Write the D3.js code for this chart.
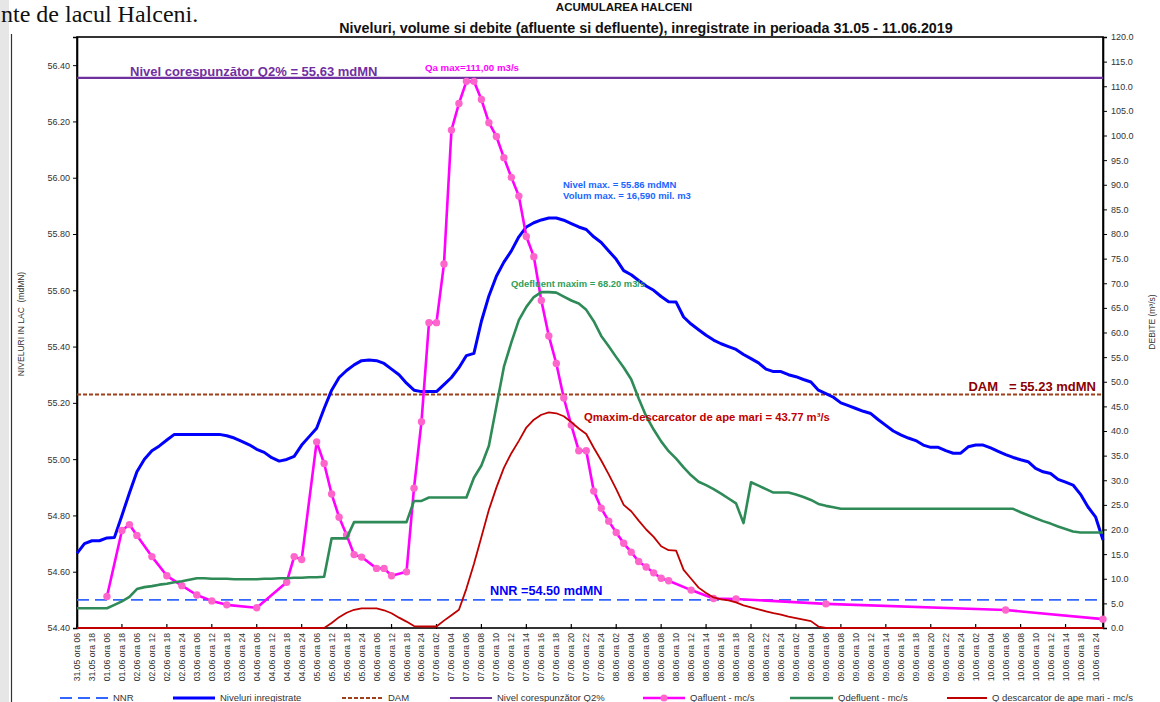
<!DOCTYPE html>
<html><head><meta charset="utf-8">
<script src="https://cdn.jsdelivr.net/npm/d3@7"></script>
<style>
body{margin:0;background:#fff;}
svg{display:block;}
text{font-family:"Liberation Sans",Arial,Helvetica,sans-serif;}
</style>
</head><body>
<svg id="c" width="1160" height="702"></svg>
<script>
// ---------- DATA ----------
const tickLabels = [
 "31.05 ora 06","31.05 ora 18","01.06 ora 06","01.06 ora 18","02.06 ora 06","02.06 ora 12","02.06 ora 18","02.06 ora 24",
 "03.06 ora 06","03.06 ora 12","03.06 ora 18","03.06 ora 24","04.06 ora 06","04.06 ora 12","04.06 ora 18","04.06 ora 24",
 "05.06 ora 06","05.06 ora 12","05.06 ora 18","05.06 ora 24","06.06 ora 06","06.06 ora 12","06.06 ora 18","06.06 ora 24",
 "07.06 ora 02","07.06 ora 04","07.06 ora 06","07.06 ora 08","07.06 ora 10","07.06 ora 12","07.06 ora 14","07.06 ora 16",
 "07.06 ora 18","07.06 ora 20","07.06 ora 22","07.06 ora 24","08.06 ora 02","08.06 ora 04","08.06 ora 06","08.06 ora 08",
 "08.06 ora 10","08.06 ora 12","08.06 ora 14","08.06 ora 16","08.06 ora 18","08.06 ora 20","08.06 ora 22","08.06 ora 24",
 "09.06 ora 02","09.06 ora 04","09.06 ora 06","09.06 ora 08","09.06 ora 10","09.06 ora 12","09.06 ora 14","09.06 ora 16",
 "09.06 ora 18","09.06 ora 20","09.06 ora 22","09.06 ora 24","10.06 ora 02","10.06 ora 04","10.06 ora 06","10.06 ora 08",
 "10.06 ora 10","10.06 ora 12","10.06 ora 14","10.06 ora 18","10.06 ora 24"
];
// Niveluri inregistrate (mdMN), one value per reading (138 readings)
const levels = [
 54.665,54.70,54.71,54.71,54.72,54.722,54.80,54.88,54.955,55.00,
 55.03,55.047,55.068,55.088,55.088,55.088,55.088,55.088,55.088,55.088,
 55.083,55.075,55.063,55.051,55.035,55.024,55.005,54.993,54.999,55.010,
 55.05,55.08,55.11,55.18,55.245,55.29,55.315,55.335,55.35,55.352,
 55.35,55.34,55.32,55.30,55.27,55.245,55.24,55.24,55.24,55.265,
 55.29,55.325,55.368,55.376,55.49,55.58,55.65,55.70,55.74,55.79,
 55.825,55.84,55.85,55.857,55.857,55.849,55.837,55.825,55.816,55.79,
 55.77,55.74,55.71,55.67,55.655,55.635,55.615,55.60,55.578,55.559,
 55.558,55.505,55.48,55.46,55.44,55.423,55.41,55.40,55.39,55.372,
 55.357,55.342,55.32,55.311,55.311,55.30,55.293,55.283,55.274,55.245,
 55.233,55.22,55.20,55.19,55.18,55.17,55.162,55.14,55.12,55.10,
 55.086,55.075,55.066,55.05,55.042,55.042,55.03,55.021,55.021,55.044,
 55.05,55.05,55.04,55.028,55.016,55.006,54.998,54.991,54.967,54.955,
 54.949,54.928,54.918,54.908,54.875,54.83,54.795,54.713
];
// Qdefluent (m3/s)
const qDefluent = [
 4.0,4.0,4.0,4.0,4.0,4.7,5.4,6.3,7.9,8.3,
 8.5,8.8,9.0,9.3,9.5,9.8,10.1,10.1,10.0,10.0,
 10.0,9.9,9.9,9.9,9.9,10.0,10.0,10.1,10.1,10.2,
 10.2,10.3,10.3,10.4,18.2,18.2,18.2,21.5,21.5,21.5,
 21.5,21.5,21.5,21.5,21.5,25.8,25.8,26.5,26.5,26.5,
 26.5,26.5,26.5,30.5,33.0,37.0,45.0,53.0,58.0,62.5,
 65.2,67.2,68.2,68.2,68.1,67.3,66.5,65.9,64.6,62.3,
 59.3,57.2,55.0,52.9,50.5,46.6,43.0,40.3,37.9,35.9,
 34.4,32.6,31.0,29.7,29.0,28.2,27.3,26.3,25.3,21.3,
 29.6,28.9,28.2,27.5,27.5,27.5,27.1,26.6,26.0,25.2,
 24.8,24.5,24.2,24.2,24.2,24.2,24.2,24.2,24.2,24.2,
 24.2,24.2,24.2,24.2,24.2,24.2,24.2,24.2,24.2,24.2,
 24.2,24.2,24.2,24.2,24.2,24.2,23.5,22.9,22.3,21.7,
 21.2,20.6,20.1,19.6,19.4,19.4,19.4,19.4
];
// Q descarcator de ape mari (m3/s)
const qDescarcator = [
 0,0,0,0,0,0,0,0,0,0,
 0,0,0,0,0,0,0,0,0,0,
 0,0,0,0,0,0,0,0,0,0,
 0,0,0,0,1.0,2.2,3.1,3.7,4.0,4.0,
 4.0,3.6,3.0,2.1,1.3,0.4,0.3,0.3,0.3,1.5,
 2.6,3.7,8.0,13.0,18.5,24.0,28.5,32.5,35.5,38.0,
 40.7,42.3,43.3,43.77,43.6,43.0,41.8,40.5,39.4,36.6,
 34.0,31.2,28.2,25.0,23.7,21.8,20.0,18.5,16.6,15.8,
 15.7,11.8,10.0,8.2,7.1,6.2,5.8,5.6,5.2,4.6,
 4.2,3.8,3.4,3.0,2.7,2.3,2.0,1.7,1.4,0.3,
 0,0,0,0,0,0,0,0,0,0,
 0,0,0,0,0,0,0,0,0,0,
 0,0,0,0,0,0,0,0,0,0,
 0,0,0,0,0,0,0,0
];
// Qafluent (m3/s), null = no reading
const qAfluent = [
 null,null,null,null,6.4,null,19.8,21.0,18.8,null,
 14.5,null,10.6,null,8.6,null,6.7,null,5.5,null,
 4.7,null,null,null,4.1,null,null,null,9.3,14.5,
 13.9,null,37.8,33.4,27.2,22.5,18.9,14.9,14.4,null,
 12.1,12.1,10.6,null,11.4,28.4,41.9,62.0,62.0,73.9,
 101.1,106.5,111.0,111.0,107.3,102.6,99.8,95.5,91.5,87.7,
 79.5,75.4,66.5,59.3,53.7,46.7,41.2,36.0,36.0,27.8,
 24.3,21.7,19.4,17.2,15.4,13.5,12.4,11.2,10.1,9.6,
 null,null,7.7,null,null,6.0,null,null,5.9,null,
 null,null,null,null,null,null,null,null,null,null,
 4.9,null,null,null,null,null,null,null,null,null,
 null,null,null,null,null,null,null,null,null,null,
 null,null,null,null,3.65,null,null,null,null,null,
 null,null,null,null,null,null,null,1.8
];
const levelTicks = [54.4,54.6,54.8,55.0,55.2,55.4,55.6,55.8,56.0,56.2,56.4];
const flowTicks = [0,5,10,15,20,25,30,35,40,45,50,55,60,65,70,75,80,85,90,95,100,105,110,115,120];
const nnrLevel = 54.50;
const damLevel = 55.23;
const q2LineLevel = 56.355; // where the Q2% line is drawn

// ---------- SCALES ----------
const svg = d3.select("#c");
const L = 77, R = 1103, T = 37, B = 628;
const x = d3.scaleLinear().domain([0, levels.length - 1]).range([L, R]);
const yL = d3.scaleLinear().domain([54.4, 56.5]).range([B, T]);
const yR = d3.scaleLinear().domain([0, 120]).range([B, T]);

// page decoration (document context)
svg.append("rect").attr("x",0).attr("y",0).attr("width",9).attr("height",702).attr("fill","#e6e6e6");
svg.append("line").attr("x1",11.5).attr("x2",11.5).attr("y1",34).attr("y2",702).attr("stroke","#333").attr("stroke-width",1.2);
svg.append("text").attr("x",1).attr("y",22).attr("font-size",24)
  .style("font-family","'Liberation Serif','Times New Roman',serif").attr("fill","#111").text("nte de lacul Halceni.");
svg.append("text").attr("x",624).attr("y",11).attr("text-anchor","middle").attr("font-size",11.5).attr("font-weight","bold")
  .attr("fill","#111").text("ACUMULAREA  HALCENI");
svg.append("text").attr("x",646).attr("y",33).attr("text-anchor","middle").attr("font-size",14.3).attr("font-weight","bold")
  .attr("fill","#111").text("Niveluri, volume si debite (afluente si defluente), inregistrate in perioada 31.05 - 11.06.2019");

// frame
svg.append("rect").attr("x",L).attr("y",T).attr("width",R-L).attr("height",B-T)
  .attr("fill","none").attr("stroke","#000").attr("stroke-width",1.6);

// axes
const axL = svg.append("g").attr("transform",`translate(${L},0)`)
  .call(d3.axisLeft(yL).tickValues(levelTicks).tickFormat(d3.format(".2f")).tickSize(4).tickPadding(3));
const axR = svg.append("g").attr("transform",`translate(${R},0)`)
  .call(d3.axisRight(yR).tickValues(flowTicks).tickFormat(d3.format(".1f")).tickSize(4).tickPadding(4));
[axL, axR].forEach(g => {
  g.select(".domain").attr("stroke","#000").attr("stroke-width",1.6);
  g.selectAll(".tick line").attr("stroke","#000").attr("stroke-width",1);
  g.selectAll(".tick text").attr("font-size",9).attr("fill","#333").style("font-family","'Liberation Sans',Arial,sans-serif");
});

// x ticks every 6 readings
const xTickIdx = d3.range(0, levels.length, 6);
svg.append("g").selectAll("line").data(xTickIdx).join("line")
  .attr("x1",d=>x(d)).attr("x2",d=>x(d)).attr("y1",B-4).attr("y2",B+1)
  .attr("stroke","#000").attr("stroke-width",1.2);
// x labels every 2 readings
svg.append("g").selectAll("text").data(tickLabels).join("text")
  .attr("transform",(d,i)=>`translate(${x(i*2)+3},${B+5}) rotate(-90)`)
  .attr("text-anchor","end").attr("font-size",8.6).attr("fill","#333").text(d=>d);

// axis titles
svg.append("text").attr("transform","translate(24,324) rotate(-90)").attr("text-anchor","middle")
  .attr("font-size",8.5).attr("fill","#333").style("white-space","pre").text("NIVELURI IN LAC  (mdMN)");
svg.append("text").attr("transform","translate(1155,322) rotate(-90)").attr("text-anchor","middle")
  .attr("font-size",8.5).attr("fill","#333").text("DEBITE (m³/s)");

// reference lines
svg.append("line").attr("x1",L).attr("x2",R).attr("y1",yL(nnrLevel)).attr("y2",yL(nnrLevel))
  .attr("stroke","#3366ff").attr("stroke-width",1.8).attr("stroke-dasharray","12,6");
svg.append("line").attr("x1",L).attr("x2",R).attr("y1",yL(damLevel)).attr("y2",yL(damLevel))
  .attr("stroke","#a0401a").attr("stroke-width",2).attr("stroke-dasharray","4,2");
svg.append("line").attr("x1",L).attr("x2",R).attr("y1",yL(q2LineLevel)).attr("y2",yL(q2LineLevel))
  .attr("stroke","#7030a0").attr("stroke-width",2.2);

// series
const lineL = d3.line().x((d,i)=>x(i)).y(d=>yL(d));
const lineR = d3.line().x((d,i)=>x(i)).y(d=>yR(d));
svg.append("path").attr("d",lineL(levels)).attr("fill","none").attr("stroke","#0000ff").attr("stroke-width",3).attr("stroke-linejoin","round");

const afl = qAfluent.map((v,i)=>({i,v})).filter(d=>d.v!==null);
svg.append("path").attr("d",d3.line().x(d=>x(d.i)).y(d=>yR(d.v))(afl))
  .attr("fill","none").attr("stroke","#ff00ff").attr("stroke-width",2.6).attr("stroke-linejoin","round");
svg.append("g").selectAll("circle").data(afl).join("circle")
  .attr("cx",d=>x(d.i)).attr("cy",d=>yR(d.v)).attr("r",3.7).attr("fill","#ff66cc");

svg.append("path").attr("d",lineR(qDefluent)).attr("fill","none").attr("stroke","#2e8b57").attr("stroke-width",2.6).attr("stroke-linejoin","round");
svg.append("path").attr("d",lineR(qDescarcator)).attr("fill","none").attr("stroke","#c00000").attr("stroke-width",1.8).attr("stroke-linejoin","round");

// annotations
function note(txt, xx, yy, size, color, anchor){
  svg.append("text").attr("x",xx).attr("y",yy).attr("font-size",size).attr("font-weight","bold")
    .attr("fill",color).attr("text-anchor",anchor||"start").style("white-space","pre").text(txt);
}
note("Nivel corespunzător Q2% = 55,63 mdMN", 130, 76, 13, "#7030a0");
note("Qa max=111,00 m3/s", 425, 71, 9.7, "#ff00ff");
note("Nivel max. = 55.86 mdMN", 563, 188, 9.5, "#1a66ff");
note("Volum max. = 16,590 mil. m3", 563, 199, 9.5, "#1a66ff");
note("Qdefluent maxim = 68.20 m3/s", 511, 287, 9.4, "#2e9e5b");
note("DAM   = 55.23 mdMN", 1096, 391, 13, "#8b0000", "end");
note("Qmaxim-descarcator de ape mari = 43.77 m³/s", 584, 421, 11.3, "#c00000");
note("NNR =54.50 mdMN", 490, 595, 12.7, "#0000ff");

// legend
const legend = [
  {label:"NNR", x1:60, x2:108, color:"#3366ff", w:1.8, dash:"12,6"},
  {label:"Niveluri inregistrate", x1:173, x2:215, color:"#0000ff", w:3},
  {label:"DAM", x1:342, x2:383, color:"#a0401a", w:2, dash:"4,2"},
  {label:"Nivel corespunzător Q2%", x1:450, x2:492, color:"#7030a0", w:2},
  {label:"Qafluent - mc/s", x1:643, x2:685, color:"#ff00ff", w:2.6, marker:true},
  {label:"Qdefluent - mc/s", x1:790, x2:833, color:"#2e8b57", w:2.6},
  {label:"Q descarcator de ape mari - mc/s", x1:947, x2:987, color:"#c00000", w:1.8}
];
const lg = svg.append("g");
legend.forEach(d=>{
  lg.append("line").attr("x1",d.x1).attr("x2",d.x2).attr("y1",698).attr("y2",698)
    .attr("stroke",d.color).attr("stroke-width",d.w).attr("stroke-dasharray",d.dash||null);
  if(d.marker) lg.append("circle").attr("cx",(d.x1+d.x2)/2).attr("cy",698).attr("r",3.5).attr("fill","#ff66cc");
  lg.append("text").attr("x",d.x2+5).attr("y",701).attr("font-size",9.5).attr("fill","#333").text(d.label);
});
</script>
</body></html>
